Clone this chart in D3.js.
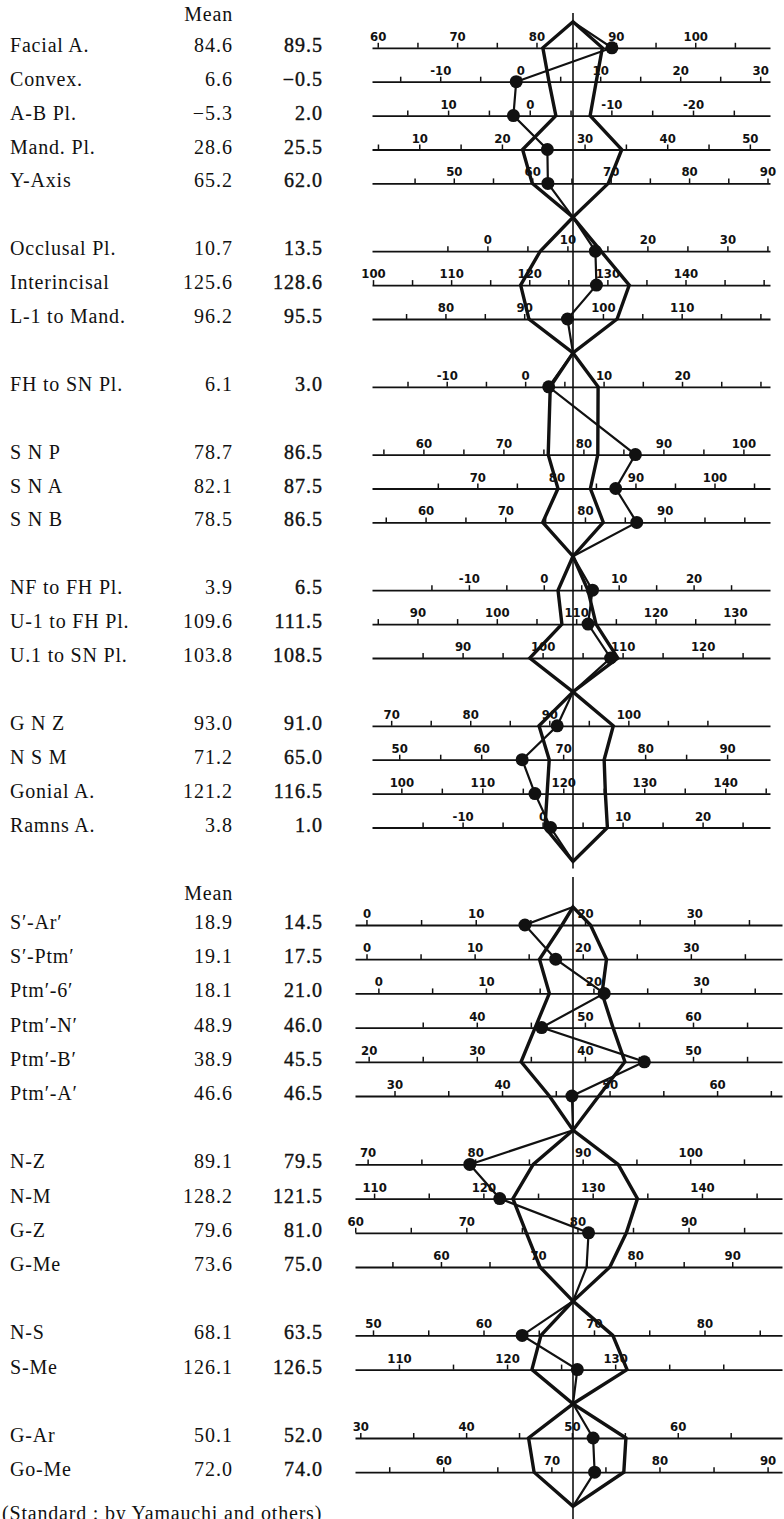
<!DOCTYPE html>
<html>
<head>
<meta charset="utf-8">
<script src="https://cdn.jsdelivr.net/npm/d3@7/dist/d3.min.js"></script>
<style>
body { margin: 0; background: #fff; }
svg { display: block; }
.lbl { font-family: "Liberation Serif", "Times New Roman", serif; font-size: 20px; letter-spacing: 0.8px; fill: #111; }
.num { font-family: "Liberation Serif", "Times New Roman", serif; font-size: 20px; letter-spacing: 1px; fill: #111; }
.pat { stroke: #111; stroke-width: 0.4px; }
.tick text { font-family: "DejaVu Sans Condensed", "Liberation Sans", sans-serif; font-size: 13px; font-weight: bold; fill: #111; }
</style>
</head>
<body>
<svg id="chart" width="784" height="1519"></svg>
<script>
// measurement names, as printed in the table
var labels = ["Facial A.", "Convex.", "A-B Pl.", "Mand. Pl.", "Y-Axis",
  "Occlusal Pl.", "Interincisal", "L-1 to Mand.",
  "FH to SN Pl.", "S N P", "S N A", "S N B",
  "NF to FH Pl.", "U-1 to FH Pl.", "U.1 to SN Pl.",
  "G N Z", "N S M", "Gonial A.", "Ramns A.",
  "S\u2032-Ar\u2032", "S\u2032-Ptm\u2032", "Ptm\u2032-6\u2032", "Ptm\u2032-N\u2032", "Ptm\u2032-B\u2032", "Ptm\u2032-A\u2032",
  "N-Z", "N-M", "G-Z", "G-Me",
  "N-S", "S-Me",
  "G-Ar", "Go-Me"];

// standard mean (centre of each scale)
var means = [84.6, 6.6, -5.3, 28.6, 65.2,
  10.7, 125.6, 96.2,
  6.1, 78.7, 82.1, 78.5,
  3.9, 109.6, 103.8,
  93.0, 71.2, 121.2, 3.8,
  18.9, 19.1, 18.1, 48.9, 38.9, 46.6,
  89.1, 128.2, 79.6, 73.6,
  68.1, 126.1,
  50.1, 72.0];

// patient values (black dots)
var patient = [89.5, -0.5, 2.0, 25.5, 62.0,
  13.5, 128.6, 95.5,
  3.0, 86.5, 87.5, 86.5,
  6.5, 111.5, 108.5,
  91.0, 65.0, 116.5, 1.0,
  14.5, 17.5, 21.0, 46.0, 45.5, 46.5,
  79.5, 121.5, 81.0, 75.0,
  63.5, 126.5,
  52.0, 74.0];

// standard range (polygon edges)
var stdLow = [80.8, 3.6, -7.4, 22.5, 60.0,
  6.6, 118.9, 90.6,
  3.2, 75.6, 80.2, 74.7,
  1.9, 108.2, 98.4,
  88.7, 68.3, 118.0, 0.3,
  17.9, 16.0, 15.9, 45.4, 34.1, 44.4,
  85.4, 122.7, 75.4, 70.2,
  65.2, 122.3,
  45.9, 68.4];
var stdHigh = [88.3, 9.5, -3.2, 34.5, 69.7,
  14.2, 132.8, 101.8,
  9.3, 81.8, 84.3, 82.3,
  5.9, 112.5, 109.4,
  98.1, 75.0, 125.2, 8.1,
  20.5, 22.2, 20.8, 52.6, 43.7, 49.0,
  93.3, 134.1, 84.4, 77.4,
  71.7, 131.1,
  55.1, 76.7];

// units between centre and right half of each scale (negative = reversed scale)
var spans = [25.2, 25.0, -24.5, 24.2, 25.5,
  25.0, 25.6, 25.4,
  25.5, 25.0, 25.3, 25.1,
  26.7, 25.2, 25.0,
  25.3, 24.4, 24.7, 25.0,
  18.3, 18.5, 18.6, 18.5, 18.5, 18.6,
  18.6, 18.3, 18.0, 20.6,
  18.1, 18.5,
  18.9, 18.5];

// first and last numbered tick on each scale
var labelFrom = [60, -10, -20, 10, 50,
  0, 100, 80,
  -10, 60, 70, 60,
  -10, 90, 90,
  70, 50, 100, -10,
  0, 0, 0, 40, 20, 30,
  70, 110, 60, 60,
  50, 110,
  30, 60];
var labelTo = [100, 30, 10, 50, 90,
  30, 140, 110,
  20, 100, 100, 90,
  20, 130, 120,
  100, 90, 140, 30,
  30, 30, 30, 60, 50, 60,
  100, 140, 90, 90,
  80, 130,
  60, 90];

// polygon groups (null = empty row)
var upperGroups = [
  ["Facial A.", "Convex.", "A-B Pl.", "Mand. Pl.", "Y-Axis"],
  ["Occlusal Pl.", "Interincisal", "L-1 to Mand."],
  ["FH to SN Pl.", null, "S N P", "S N A", "S N B"],
  ["NF to FH Pl.", "U-1 to FH Pl.", "U.1 to SN Pl."],
  ["G N Z", "N S M", "Gonial A.", "Ramns A."]
];
var lowerGroups = [
  ["S\u2032-Ar\u2032", "S\u2032-Ptm\u2032", "Ptm\u2032-6\u2032", "Ptm\u2032-N\u2032", "Ptm\u2032-B\u2032", "Ptm\u2032-A\u2032"],
  ["N-Z", "N-M", "G-Z", "G-Me"],
  ["N-S", "S-Me"],
  ["G-Ar", "Go-Me"]
];
var noMarker = ["G-Me"];

var svg = d3.select("#chart");
var cx = 573;
var fmt = d3.format(".1f");

var sections = [
  { groups: upperGroups, y0: 47.8, step: 33.9, lineL: 372, lineR: 770, apexGap: 26, head: 27, spine: [13, null] },
  { groups: lowerGroups, y0: 925, step: 34.2, lineL: 355, lineR: 782, apexGap: 18, head: 25, spine: [877, 1519] }
];

var axisLayer = svg.append("g");
var spineLayer = svg.append("g");
var polyLayer = svg.append("g");
var textLayer = svg.append("g");

var line = d3.line();

sections.forEach(function (sec) {
  var yOf = function (s) { return sec.y0 + s * sec.step; };

  textLayer.append("text").attr("class", "lbl")
    .attr("x", 233).attr("y", yOf(0) - sec.head)
    .attr("text-anchor", "end").text("Mean");

  var slot = 0, top = yOf(0) - sec.apexGap;
  sec.groups.forEach(function (grp) {
    var rows = [];
    grp.forEach(function (name) {
      if (name !== null) {
        var i = labels.indexOf(name);
        var x = d3.scaleLinear().domain([means[i], means[i] + spans[i]]).range([cx, cx + 200]);
        x.domain([x.invert(sec.lineL), x.invert(sec.lineR)]).range([sec.lineL, sec.lineR]);
        rows.push({ i: i, y: yOf(slot), x: x });
      }
      slot++;
    });
    var bottom = yOf(slot);
    slot++;
    drawGroup(rows, top, bottom, sec);
    top = bottom;
  });
  sec.spine[1] = sec.spine[1] || top + 7;
  spineLayer.append("line")
    .attr("x1", cx).attr("x2", cx)
    .attr("y1", sec.spine[0]).attr("y2", sec.spine[1])
    .attr("stroke", "#111").attr("stroke-width", 1.6);
});

function drawGroup(rows, top, bottom, sec) {
  rows.forEach(function (r) {
    var i = r.i;
    var ticks = d3.range(labelFrom[i] - 5, labelTo[i] + 10.1, 5).filter(function (t) {
      var px = r.x(t);
      return px > sec.lineL && px < sec.lineR - 2;
    });
    var ax = axisLayer.append("g")
      .attr("transform", "translate(0," + r.y + ")")
      .call(d3.axisTop(r.x).tickValues(ticks)
        .tickFormat(function (d) {
          if (d % 10 || d < labelFrom[i] || d > labelTo[i]) return "";
          return d < 0 ? "-" + (-d) : String(d);
        })
        .tickSize(5).tickSizeOuter(0).tickPadding(2));
    ax.select(".domain").attr("stroke", "#111").attr("stroke-width", 1.8);
    ax.selectAll(".tick line").attr("stroke", "#111").attr("stroke-width", 1.5);

    textLayer.append("text").attr("class", "lbl")
      .attr("x", 10).attr("y", r.y + 4).text(labels[i]);
    textLayer.append("text").attr("class", "num")
      .attr("x", 233).attr("y", r.y + 4).attr("text-anchor", "end").text(fmt(means[i]));
    textLayer.append("text").attr("class", "num pat")
      .attr("x", 323).attr("y", r.y + 4).attr("text-anchor", "end").text(fmt(patient[i]));
  });

  // standard polygon
  var left = rows.map(function (r) {
    return [Math.min(r.x(stdLow[r.i]), r.x(stdHigh[r.i])), r.y];
  });
  var right = rows.map(function (r) {
    return [Math.max(r.x(stdLow[r.i]), r.x(stdHigh[r.i])), r.y];
  }).reverse();
  var pts = [[cx, top]].concat(left, [[cx, bottom]], right);
  polyLayer.append("path")
    .attr("d", line(pts) + "Z")
    .attr("fill", "none").attr("stroke", "#111")
    .attr("stroke-width", 3.4).attr("stroke-linejoin", "miter");

  // patient profile
  var ppts = [[cx, top]].concat(rows.map(function (r) {
    return [r.x(patient[r.i]), r.y];
  }), [[cx, bottom]]);
  polyLayer.append("path")
    .attr("d", line(ppts))
    .attr("fill", "none").attr("stroke", "#111").attr("stroke-width", 2.2);

  polyLayer.selectAll(null)
    .data(rows.filter(function (r) { return noMarker.indexOf(labels[r.i]) < 0; }))
    .enter().append("circle")
    .attr("cx", function (r) { return r.x(patient[r.i]); })
    .attr("cy", function (r) { return r.y; })
    .attr("r", 6.5).attr("fill", "#111");
}

textLayer.append("text").attr("class", "lbl")
  .attr("x", 2).attr("y", 1520)
  .text("(Standard : by Yamauchi and others)");
</script>
</body>
</html>
